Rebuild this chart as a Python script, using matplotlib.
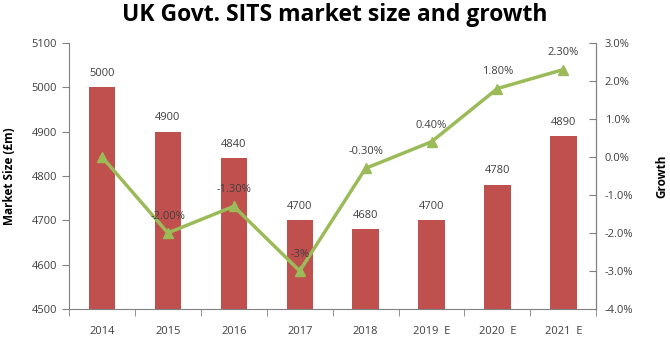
import matplotlib
matplotlib.use("Agg")
from matplotlib import pyplot as plt
from matplotlib.ticker import FuncFormatter

plt.rcParams['font.family'] = ['Open Sans', 'DejaVu Sans']

# data
years = ['2014', '2015', '2016', '2017', '2018', '2019  E', '2020  E', '2021  E']
market_size = [5000, 4900, 4840, 4700, 4680, 4700, 4780, 4890]
growth = [0.0, -2.0, -1.3, -3.0, -0.3, 0.4, 1.8, 2.3]
growth_labels = ['', '-2.00%', '-1.30%', '-3%', '-0.30%', '0.40%', '1.80%', '2.30%']

bar_color = '#C0504D'
line_color = '#9BBB59'
axis_color = '#808080'
text_color = '#404040'

fig = plt.figure(figsize=(6.7, 3.38), dpi=100)
ax = fig.add_axes([0.103, 0.086, 0.787, 0.787])

x = list(range(len(years)))
ax.bar(x, market_size, width=0.4, color=bar_color, zorder=2)
for i, v in zip(x, market_size):
    ax.annotate(str(v), (i, v), xytext=(0, 6), textcoords='offset points',
                ha='center', va='bottom', fontsize=8, color=text_color)

ax.set_ylim(4500, 5100)
ax.set_xlim(-0.5, len(years) - 0.5)
ax.set_yticks(range(4500, 5101, 100))
ax.set_xticks(x)
ax.set_xticklabels(years)
ax.set_xticks([i - 0.5 for i in range(len(years) + 1)], minor=True)
ax.tick_params(axis='x', which='major', length=0, pad=12, labelsize=8, labelcolor=text_color)
ax.tick_params(axis='x', which='minor', length=5, color=axis_color, direction='out')
ax.tick_params(axis='y', length=5, color=axis_color, labelsize=8, labelcolor=text_color)
ax.set_ylabel('Market Size (£m)', fontsize=8.5, fontweight='bold', color='black', labelpad=11)
ax.spines['top'].set_visible(False)
ax.spines['left'].set_color(axis_color)
ax.spines['bottom'].set_color(axis_color)
ax.spines['right'].set_color(axis_color)

ax2 = ax.twinx()
ax2.plot(x, growth, color=line_color, linewidth=2.5, marker='^', markersize=7, zorder=3)
for i, g, lab in zip(x, growth, growth_labels):
    if lab:
        ax2.annotate(lab, (i, g), xytext=(0, 8), textcoords='offset points',
                     ha='center', va='bottom', fontsize=8, color=text_color)
ax2.set_ylim(-4, 3)
ax2.set_yticks(range(-4, 4))
ax2.yaxis.set_major_formatter(FuncFormatter(lambda v, p: '%.1f%%' % v))
ax2.tick_params(axis='y', length=5, direction='in', color=axis_color, labelsize=8,
                labelcolor=text_color, pad=6)
ax2.set_ylabel('Growth', fontsize=8.5, fontweight='bold', color='black', labelpad=16)
ax2.spines['top'].set_visible(False)
ax2.spines['right'].set_color(axis_color)
ax2.spines['left'].set_visible(False)
ax2.spines['bottom'].set_visible(False)

fig.suptitle('UK Govt. SITS market size and growth', fontsize=16.5, fontweight='bold',
             x=0.5, y=0.99)

fig.savefig('out.png', dpi=100)
